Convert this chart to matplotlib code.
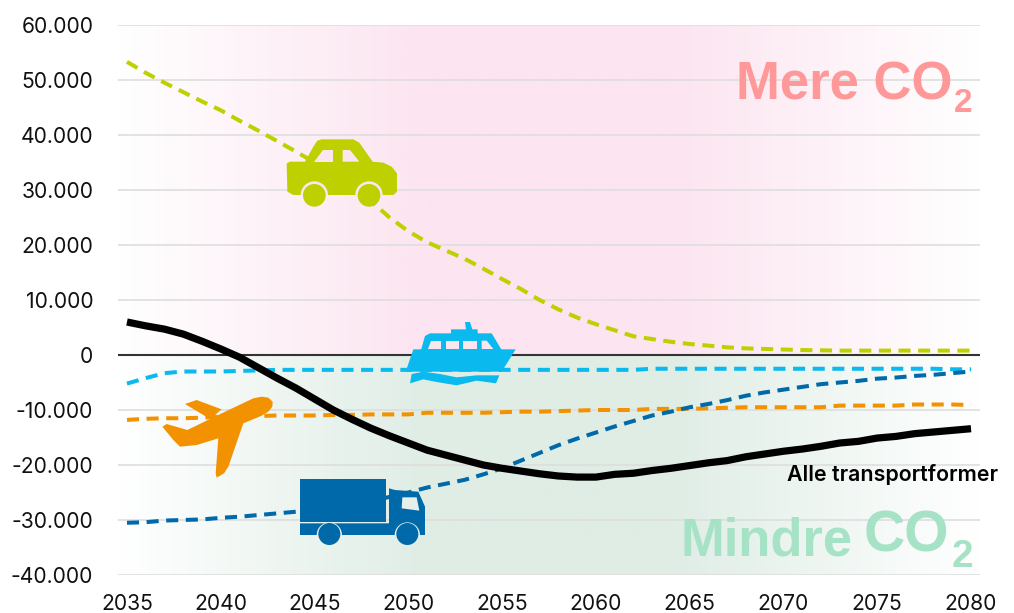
import numpy as np
import matplotlib
matplotlib.use("Agg")
import matplotlib.pyplot as plt
from matplotlib.colors import LinearSegmentedColormap
from matplotlib.patches import Polygon, Circle, Wedge

plt.rcParams['font.family'] = ['Liberation Sans', 'DejaVu Sans']

years = list(range(2035, 2081))
car = [53300,51300,49500,47800,46100,44500,42600,40800,38900,37000,35000,32800,30500,28000,25000,22500,
       20500,19000,17500,15700,13800,12000,10000,8300,6800,5600,4500,3400,2900,2400,2000,1700,1400,1200,
       1100,1000,900,850,800,800,800,800,800,800,800,800]
ferry = [-5200,-4200,-3300,-3000,-3000,-3000,-2900,-2800,-2700,-2700,-2700,-2700,-2700,-2700,-2700,-2700,
         -2700,-2700,-2700,-2700,-2700,-2700,-2700,-2700,-2700,-2700,-2700,-2700,-2500,-2500,-2500,-2500,
         -2500,-2500,-2500,-2500,-2500,-2500,-2500,-2500,-2500,-2500,-2500,-2500,-2600,-2600]
plane = [-11800,-11600,-11500,-11500,-11400,-11200,-11100,-11100,-11000,-11000,-11000,-10900,-10900,-10800,
         -10800,-10800,-10500,-10500,-10500,-10500,-10400,-10300,-10300,-10200,-10100,-10000,-10000,-10000,
         -9800,-9800,-9800,-9700,-9600,-9500,-9500,-9500,-9500,-9500,-9200,-9200,-9200,-9200,-9000,-9000,-9000,-9100]
truck = [-30500,-30400,-30100,-30000,-29900,-29600,-29400,-29100,-28800,-28500,-28300,-27800,-27300,-26600,
         -25800,-25000,-24100,-23400,-22700,-21700,-20600,-19200,-17800,-16400,-15200,-14100,-13000,-12000,
         -11000,-10300,-9500,-8900,-8200,-7400,-6800,-6300,-5800,-5300,-5000,-4700,-4300,-4100,-3800,-3600,-3300,-3000]
total = [6000,5300,4700,3800,2500,1100,-400,-2300,-4200,-6000,-8000,-10000,-11700,-13300,-14700,-16000,
         -17300,-18200,-19100,-20000,-20600,-21100,-21600,-22000,-22200,-22200,-21700,-21500,-21000,-20600,
         -20100,-19600,-19200,-18500,-18000,-17500,-17100,-16600,-16000,-15700,-15100,-14800,-14300,-14000,-13700,-13400]
yticks = [-40000,-30000,-20000,-10000,0,10000,20000,30000,40000,50000,60000]
ylabels = ['-40.000','-30.000','-20.000','-10.000','0','10.000','20.000','30.000','40.000','50.000','60.000']
xticks = list(range(2035, 2081, 5))

C_CAR, C_FERRY, C_PLANE, C_TRUCK = '#BFD000', '#0ABAEE', '#F39200', '#0069AA'

W, H = 1014, 613
fig = plt.figure(figsize=(W/100, H/100), dpi=100, facecolor='white')
ax = fig.add_axes([117.6/W, 1-575/H, 862.8/W, 550/H])

# gradient backgrounds
stops = [0, .36, .64, 1]
pink = LinearSegmentedColormap.from_list('p', list(zip(stops, ['#FFFFFF', '#FCE4F0', '#FCE4F0', '#FFFFFF'])))
green = LinearSegmentedColormap.from_list('g', list(zip(stops, ['#FFFFFF', '#DFEDE5', '#DFEDE5', '#FFFFFF'])))
g = np.linspace(0, 1, 512)[None, :]
ax.imshow(g, extent=(2034.5, 2080.5, 0, 60000), cmap=pink, aspect='auto', zorder=0, vmin=0, vmax=1)
ax.imshow(g, extent=(2034.5, 2080.5, -40000, 0), cmap=green, aspect='auto', zorder=0, vmin=0, vmax=1)
ax.set_xlim(2034.5, 2080.5)
ax.set_ylim(-40000, 60000)

ax.set_yticks(yticks, ylabels)
ax.set_xticks(xticks, [str(x) for x in xticks])
ax.tick_params(length=0, labelsize=15.2, colors='#111111', labelfontfamily='Inter')
ax.tick_params(axis='y', pad=17.5)
ax.tick_params(axis='x', pad=14)
ax.grid(axis='y', color='#DEDEDE', lw=1.2, zorder=1)
ax.grid(axis='x', visible=False)
for s in ax.spines.values():
    s.set_visible(False)
ax.axhline(0, color='#333333', lw=1.5, zorder=2)

dash = (0, (12/4, 7.5/4))
for vals, col in [(car, C_CAR), (ferry, C_FERRY), (plane, C_PLANE), (truck, C_TRUCK)]:
    ax.plot(years, vals, color=col, lw=2.9, ls=dash, dash_capstyle='butt', zorder=3)
ax.plot(years, total, color='black', lw=5.2, solid_capstyle='butt', zorder=4)

# overlay in pixel coordinates for the decorative icons and labels
ov = fig.add_axes([0, 0, 1, 1], facecolor='none')
ov.set_xlim(0, W); ov.set_ylim(H, 0); ov.axis('off')

def pts(ox, oy, seq):
    return [(ox + x/3, oy + y/3) for x, y in seq]
def poly(ox, oy, seq, col, z=5):
    ov.add_patch(Polygon(pts(ox, oy, seq), closed=True, fc=col, ec='none', zorder=z))
def circ(ox, oy, x, y, r, col, z=7):
    ov.add_patch(Circle((ox + x/3, oy + y/3), r/3, fc=col, ec='none', zorder=z))
def halo(ox, oy, x, y, r, col, z=6):
    ov.add_patch(Wedge((ox + x/3, oy + y/3), r/3, 180, 360, fc=col, ec='none', zorder=z))

# car
o = (260, 120)
PINK = '#FBE6F0'
poly(*o, [(80,130),(90,125),(135,125),(160,80),(172,62),(185,58),(280,58),(298,68),(338,125),(370,128),(395,140),(411,160),(411,215),
          (400,225),(100,225),(82,215)], C_CAR)
halo(*o, 163, 225, 41, PINK); halo(*o, 327, 225, 41, PINK)
circ(*o, 163, 226, 34, C_CAR); circ(*o, 327, 226, 34, C_CAR)
poly(*o, [(190,90),(218,90),(218,125),(163,125)], PINK, 6)
poly(*o, [(248,90),(270,90),(298,125),(248,125)], PINK, 6)

# ferry
poly(*o, [(460,688),(767,688),(725,755),(437,755)], C_FERRY)
poly(*o, [(483,690),(495,648),(510,640),(573,640),(573,628),(618,628),(615,606),(630,606),(637,628),(653,628),(653,640),
          (695,640),(725,690)], C_FERRY)
poly(*o, [(513,662),(543,662),(543,687),(503,687)], PINK, 6)
poly(*o, [(557,662),(597,662),(597,687),(557,687)], PINK, 6)
poly(*o, [(610,662),(652,662),(652,687),(610,687)], PINK, 6)
poly(*o, [(665,662),(680,662),(700,687),(665,687)], PINK, 6)
poly(*o, [(455,762),(490,755),(540,762),(590,772),(650,766),(718,766),(708,790),(650,782),(590,796),(530,786),(490,778),(450,790)], C_FERRY)

# plane
o = (150, 380)
poly(*o, [(105,72),(140,60),(215,88),(180,118),(160,105)], C_PLANE)
poly(*o, [(37,140),(50,132),(112,150),(215,100),(310,55),(335,50),(355,53),(368,65),(367,80),(355,95),(335,107),(280,130),(235,260),(222,280),(200,293),
          (197,280),(205,175),(140,195),(90,200),(70,180)], C_PLANE)

# truck
GREENBG = '#E6F0EA'
poly(*o, [(450,298),(707,298),(707,425),(450,425)], C_TRUCK)
poly(*o, [(450,430),(717,430),(717,325),(735,330),(805,335),(825,380),(825,465),(450,465)], C_TRUCK)
poly(*o, [(757,352),(800,352),(808,392),(755,385)], GREENBG, 6)
halo(*o, 538, 465, 38, GREENBG); halo(*o, 772, 465, 38, GREENBG)
circ(*o, 538, 462, 33, C_TRUCK); circ(*o, 772, 462, 33, C_TRUCK)

# labels
RED, MINT = '#FF9999', '#A6E3C6'
ov.text(736, 99, 'Mere CO', fontsize=38, fontweight='bold', color=RED, va='baseline', zorder=8)
ov.text(954, 112, '2', fontsize=24, fontweight='bold', color=RED, va='baseline', zorder=8)
ov.text(680, 555, 'Mindre', fontsize=37.8, fontweight='bold', color=MINT, va='baseline', zorder=8)
ov.text(864, 552, 'CO', fontsize=41, fontweight='bold', color=MINT, va='baseline', zorder=8)
ov.text(952, 567, '2', fontsize=28, fontweight='bold', color=MINT, va='baseline', zorder=8)
ov.text(787, 481, 'Alle transportformer', fontsize=15.4, fontfamily='Inter', fontweight='semibold', color='black', va='baseline', zorder=8)

fig.savefig('out.png', dpi=100)
